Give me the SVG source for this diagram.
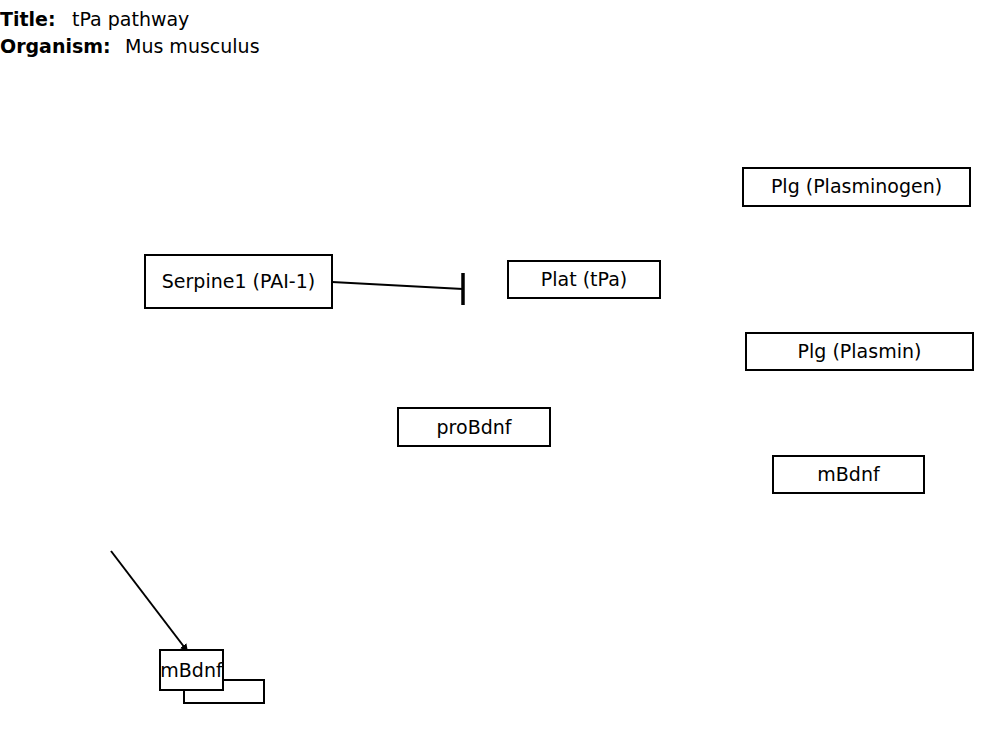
<svg xmlns="http://www.w3.org/2000/svg" width="1000" height="730" viewBox="0 0 1000 730">
<style>
text{font-family:"DejaVu Sans",sans-serif;font-size:19px;fill:#000}
.b{font-weight:bold}
.n rect{fill:#fff;stroke:#000;stroke-width:2}
.lbl{text-anchor:middle}
.c line{stroke:#000;stroke-width:2}
</style>
<defs>
<marker id="arr" viewBox="0 0 10 10" refX="10" refY="5" markerWidth="4" markerHeight="4" orient="auto"><path d="M0,0L10,5L0,10z" fill="#000"/></marker>
</defs>
<rect width="1000" height="730" fill="#fff"/>
<g id="header">
<text x="0" y="26" class="b">Title:</text><text x="72" y="26">tPa pathway</text>
<text x="0" y="53" class="b">Organism:</text><text x="125" y="53">Mus musculus</text>
</g>
<g id="extra" class="n"><rect x="184" y="680" width="80" height="23"/></g>
<g id="plg_plasminogen" class="n"><rect x="743" y="168" width="227" height="38"/><text class="lbl" x="856.5" y="193">Plg (Plasminogen)</text></g>
<g id="serpine1" class="n"><rect x="145" y="255" width="187" height="53"/><text class="lbl" x="238.5" y="288">Serpine1 (PAI-1)</text></g>
<g id="plat" class="n"><rect x="508" y="261" width="152" height="37"/><text class="lbl" x="584" y="286">Plat (tPa)</text></g>
<g id="plg_plasmin" class="n"><rect x="746" y="333" width="227" height="37"/><text class="lbl" x="859.5" y="358">Plg (Plasmin)</text></g>
<g id="probdnf" class="n"><rect x="398" y="408" width="152" height="38"/><text class="lbl" x="474" y="434">proBdnf</text></g>
<g id="mbdnf" class="n"><rect x="773" y="456" width="151" height="37"/><text class="lbl" x="848.5" y="481">mBdnf</text></g>
<g id="connectors" class="c">
<line x1="332" y1="282" x2="463" y2="289"/>
<line x1="463" y1="273" x2="463" y2="305" style="stroke-width:3.5"/>
<line x1="111" y1="551" x2="188" y2="652" marker-end="url(#arr)"/>
</g>
<g id="mbdnf_small" class="n"><rect x="160" y="650" width="63" height="40"/><text class="lbl" x="191.5" y="677">mBdnf</text></g>
</svg>
